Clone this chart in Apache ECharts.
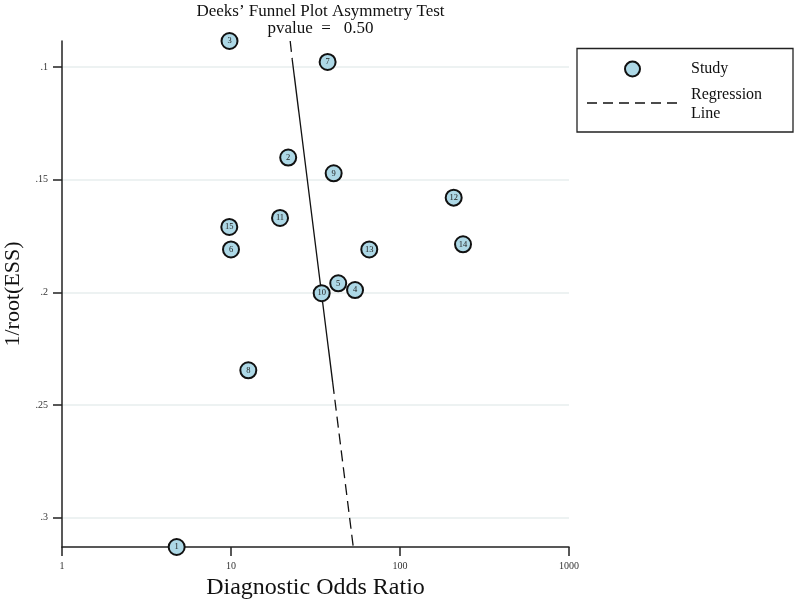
<!DOCTYPE html>
<html>
<head>
<meta charset="utf-8">
<script src="https://cdn.jsdelivr.net/npm/echarts@6/dist/echarts.min.js"></script>
<style>html,body{margin:0;padding:0;background:#fff}#c{width:799px;height:600px}</style>
</head>
<body>
<div id="c"></div>
<script>
// Study ids, diagnostic odds ratios, and 1/root(ESS)
const studyIds = [1, 2, 3, 4, 5, 6, 7, 8, 9, 10, 11, 12, 13, 14, 15];
const dorValues = [4.77, 21.8, 9.8, 54.2, 43.1, 10.0, 37.3, 12.66, 40.5, 34.4, 19.5, 207.8, 65.8, 236, 9.77];
const invRootEss = [0.313, 0.1402, 0.0885, 0.199, 0.196, 0.181, 0.0978, 0.2346, 0.1472, 0.2004, 0.167, 0.158, 0.181, 0.1787, 0.171];

// Regression line (DOR, 1/root(ESS))
const regTopDash = [[22.4, 0.0885], [23.05, 0.0969]];
const regSolid = [[23.05, 0.0969], [40.0, 0.2402]];
const regBottomDash = [[40.0, 0.2402], [52.9, 0.313]];

const yTicks = [0.1, 0.15, 0.2, 0.25, 0.3];
const yTickLabels = ['.1', '.15', '.2', '.25', '.3'];
const xTickLabels = {1: '1', 10: '10', 100: '100', 1000: '1000'};
const yMin = 0.0885, yMax = 0.313;
const xMin = 1, xMax = 1000;

const titleText = "Deeks\u2019 Funnel Plot Asymmetry Test";
const subText = "pvalue  =   0.50";

const serif = '"Liberation Serif", "DejaVu Serif", serif';
const chart = echarts.init(document.getElementById('c'), null, {renderer: 'canvas'});

const scatterData = studyIds.map((id, i) => [dorValues[i], invRootEss[i], id]);

chart.setOption({
  animation: false,
  backgroundColor: '#fff',
  textStyle: {fontFamily: serif},
  title: {
    text: titleText,
    subtext: subText,
    left: 315.5,
    textAlign: 'center',
    top: -2,
    itemGap: 0,
    textStyle: {fontFamily: serif, fontSize: 17, fontWeight: 'normal', color: '#111'},
    subtextStyle: {fontFamily: serif, fontSize: 17, color: '#111'}
  },
  grid: {left: 62, right: 230, top: 41, bottom: 53, containLabel: false, outerBoundsMode: 'none'},
  xAxis: {
    type: 'log', logBase: 10, min: xMin, max: xMax,
    name: 'Diagnostic Odds Ratio', nameLocation: 'middle', nameGap: 25,
    nameTextStyle: {fontFamily: serif, fontSize: 24, color: '#111'},
    axisLine: {lineStyle: {color: '#222', width: 1.5}},
    axisTick: {show: true, length: 9, lineStyle: {color: '#222', width: 1.5}},
    axisLabel: {fontFamily: serif, fontSize: 10, color: '#333', margin: 14,
      formatter: v => xTickLabels[Math.round(v)] || String(v)},
    splitLine: {show: false},
    minorTick: {show: false}
  },
  yAxis: {
    type: 'value', inverse: true, min: yMin, max: yMax,
    name: '1/root(ESS)', nameLocation: 'middle', nameGap: 36, nameRotate: 90,
    nameTextStyle: {fontFamily: serif, fontSize: 22, color: '#111'},
    axisLine: {show: true, lineStyle: {color: '#222', width: 1.5}},
    axisTick: {show: true, length: 9, customValues: yTicks, lineStyle: {color: '#222', width: 1.5}},
    axisLabel: {
      fontFamily: serif, fontSize: 10, color: '#333', margin: 14,
      customValues: yTicks,
      formatter: v => { const i = yTicks.findIndex(t => Math.abs(t - v) < 1e-9); return i >= 0 ? yTickLabels[i] : ''; }
    },
    splitLine: {show: true, customValues: yTicks, lineStyle: {color: '#e7eeee', width: 1.5}}
  },
  series: [
    {
      type: 'line', data: regTopDash, symbol: 'none', silent: true, z: 2,
      lineStyle: {color: '#111', width: 1.3, type: [11, 6]}
    },
    {
      type: 'line', data: regSolid, symbol: 'none', silent: true, z: 2,
      lineStyle: {color: '#111', width: 1.3, type: 'solid'}
    },
    {
      type: 'line', data: regBottomDash, symbol: 'none', silent: true, z: 2,
      lineStyle: {color: '#111', width: 1.3, type: [11, 6]}
    },
    {
      type: 'scatter', data: scatterData, symbol: 'circle', symbolSize: 16, z: 5,
      itemStyle: {color: '#add8e6', borderColor: '#111', borderWidth: 2, opacity: 1},
      label: {
        show: true, position: 'inside', formatter: p => String(p.value[2]),
        fontFamily: serif, fontSize: 8.5, color: '#222'
      }
    }
  ],
  graphic: [
    {type: 'rect', shape: {x: 577, y: 48.5, width: 216, height: 83.5},
     style: {fill: '#fff', stroke: '#222', lineWidth: 1.3}},
    {type: 'circle', shape: {cx: 632.5, cy: 69, r: 7.5},
     style: {fill: '#add8e6', stroke: '#111', lineWidth: 2}},
    {type: 'text', x: 691, y: 69,
     style: {text: 'Study', font: '16px ' + serif, fill: '#111', verticalAlign: 'middle'}},
    {type: 'line', shape: {x1: 587, y1: 103, x2: 678, y2: 103},
     style: {stroke: '#111', lineWidth: 1.3, lineDash: [10, 6]}},
    {type: 'text', x: 691, y: 95,
     style: {text: 'Regression', font: '16px ' + serif, fill: '#111', verticalAlign: 'middle'}},
    {type: 'text', x: 691, y: 114,
     style: {text: 'Line', font: '16px ' + serif, fill: '#111', verticalAlign: 'middle'}}
  ]
});
</script>
</body>
</html>
